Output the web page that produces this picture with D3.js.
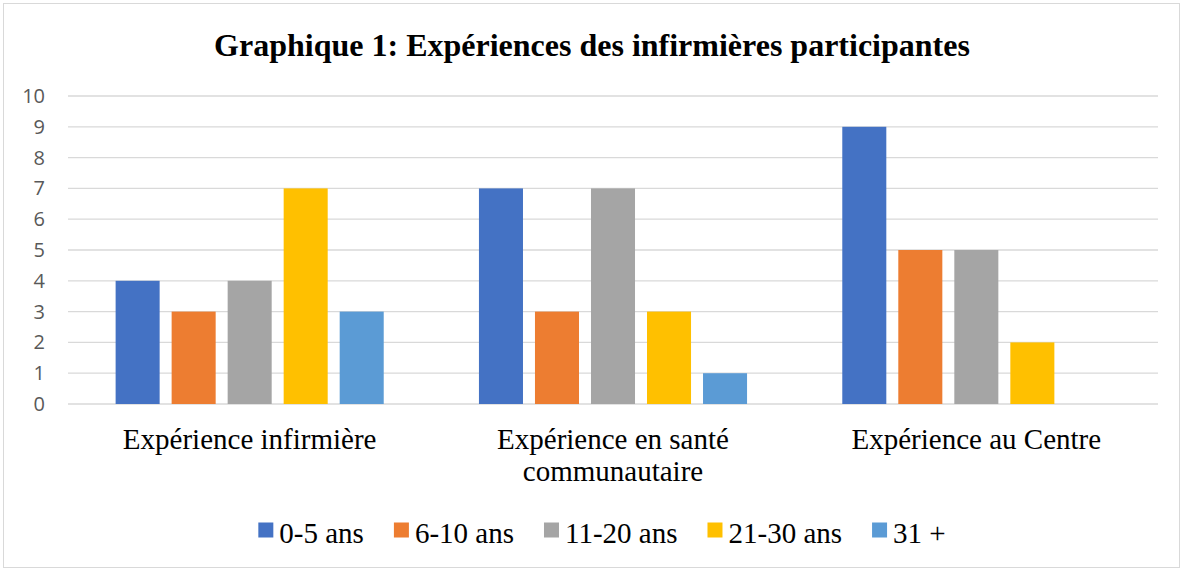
<!DOCTYPE html>
<html>
<head>
<meta charset="utf-8">
<script src="https://cdn.jsdelivr.net/npm/d3@7"></script>
<style>
  body { margin: 0; background: #fff; }
  svg { display: block; }
  .serif { font-family: 'Liberation Serif', 'Times New Roman', serif; }
</style>
</head>
<body>
<svg id="chart"></svg>
<script>
const categories = [
  ['Expérience infirmière'],
  ['Expérience en santé', 'communautaire'],
  ['Expérience au Centre']
]
const seriesNames = ['0-5 ans', '6-10 ans', '11-20 ans', '21-30 ans', '31 +']
const seriesColors = ['#4472C4', '#ED7D31', '#A5A5A5', '#FFC000', '#5B9BD5']
const values05 = [4, 7, 9]
const values610 = [3, 3, 5]
const values1120 = [4, 7, 5]
const values2130 = [7, 3, 2]
const values31 = [3, 1, 0]
const yTicks = [0, 1, 2, 3, 4, 5, 6, 7, 8, 9, 10]

const allValues = [values05, values610, values1120, values2130, values31]
const width = 1183
const height = 571
const margin = { top: 96, right: 25, bottom: 167, left: 68 }

const svg = d3.select('#chart')
  .attr('width', width)
  .attr('height', height)

// cadre
svg.append('rect')
  .attr('x', 3.5).attr('y', 3.5)
  .attr('width', width - 7).attr('height', height - 7)
  .attr('fill', '#fff')
  .attr('stroke', '#D9D9D9')
  .attr('stroke-width', 1)

svg.append('text')
  .attr('class', 'serif')
  .attr('x', 592)
  .attr('y', 56)
  .attr('text-anchor', 'middle')
  .attr('font-weight', 'bold')
  .attr('font-size', 32)
  .attr('fill', '#000')
  .text('Graphique 1: Expériences des infirmières participantes')

const x0 = d3.scaleBand()
  .domain(d3.range(categories.length))
  .range([margin.left, width - margin.right])

const x1 = d3.scaleBand()
  .domain(d3.range(seriesNames.length))
  .range([0, x0.bandwidth()])
  .paddingInner(0.214)
  .paddingOuter(0.85)

const y = d3.scaleLinear()
  .domain([0, 10])
  .range([height - margin.bottom, margin.top])

const g = svg.append('g')

// grille
g.selectAll('.grid')
  .data(yTicks)
  .enter().append('line')
  .attr('x1', margin.left)
  .attr('x2', width - margin.right)
  .attr('y1', d => y(d))
  .attr('y2', d => y(d))
  .attr('stroke', '#D9D9D9')
  .attr('stroke-width', 1.3)

g.selectAll('.tick-label')
  .data(yTicks)
  .enter().append('text')
  .attr('x', 45)
  .attr('y', d => y(d))
  .attr('dy', '0.35em')
  .attr('text-anchor', 'end')
  .attr('font-family', 'Open Sans, Noto Sans, sans-serif')
  .attr('font-size', 20)
  .attr('fill', '#595959')
  .text(d => d)

// barres
categories.forEach((cat, ci) => {
  const grp = g.append('g').attr('transform', `translate(${x0(ci)},0)`)
  grp.selectAll('rect')
    .data(allValues.map((vals, si) => ({ si, v: vals[ci] })).filter(d => d.v > 0))
    .enter().append('rect')
    .attr('x', d => x1(d.si))
    .attr('width', x1.bandwidth())
    .attr('y', d => y(d.v))
    .attr('height', d => y(0) - y(d.v))
    .attr('fill', d => seriesColors[d.si])

  const label = grp.append('text')
    .attr('class', 'serif')
    .attr('x', x0.bandwidth() / 2)
    .attr('y', 449)
    .attr('text-anchor', 'middle')
    .attr('font-size', 29)
    .attr('fill', '#000')
  cat.forEach((line, li) => {
    label.append('tspan')
      .attr('x', x0.bandwidth() / 2)
      .attr('dy', li === 0 ? 0 : 32)
      .text(line)
  })
})

// légende
const legend = svg.append('g')
const items = legend.selectAll('g')
  .data(seriesNames)
  .enter().append('g')
items.append('rect')
  .attr('width', 15).attr('height', 15)
  .attr('y', -20.5)
  .attr('fill', (d, i) => seriesColors[i])
items.append('text')
  .attr('class', 'serif')
  .attr('x', 21)
  .attr('y', 0)
  .attr('font-size', 29)
  .attr('fill', '#000')
  .text(d => d)

const gap = 30
let lx = 0
const pos = []
items.each(function () {
  const w = 21 + d3.select(this).select('text').node().getComputedTextLength()
  pos.push(lx)
  lx += w + gap
})
const totalW = lx - gap
const startX = 602 - totalW / 2
items.attr('transform', (d, i) => `translate(${startX + pos[i]},543)`)
</script>
</body>
</html>
